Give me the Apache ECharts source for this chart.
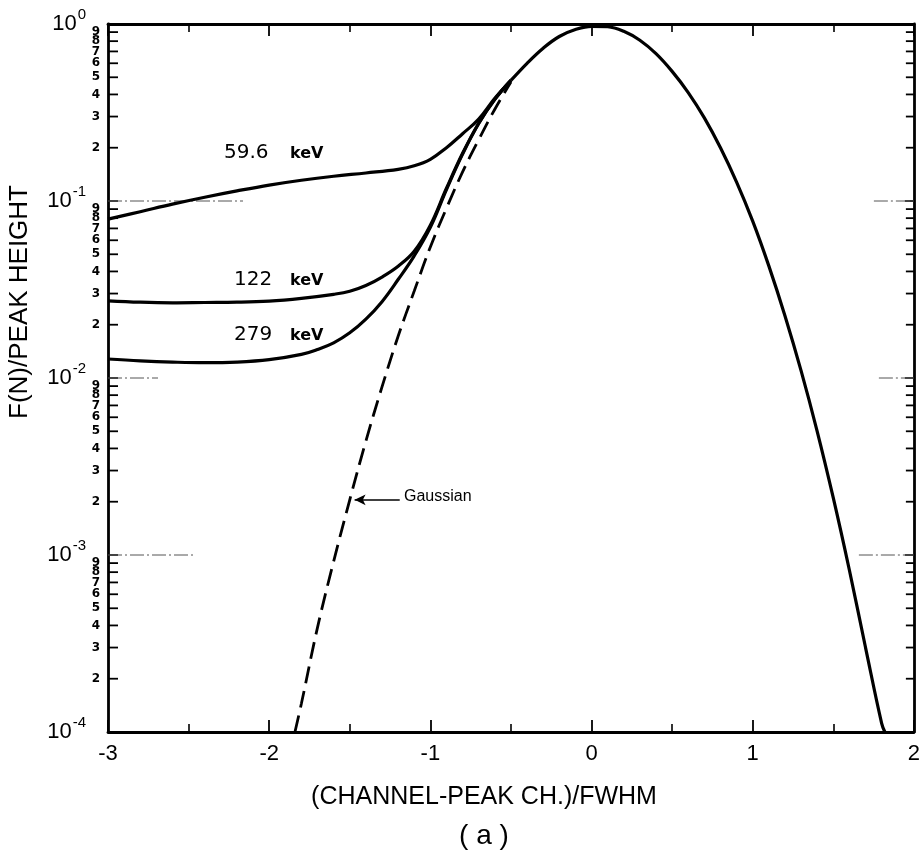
<!DOCTYPE html>
<html>
<head>
<meta charset="utf-8">
<script src="https://cdn.jsdelivr.net/npm/echarts@6/dist/echarts.min.js"></script>
<style>
  html, body { margin: 0; padding: 0; background: #ffffff; }
  #chart { width: 923px; height: 852px; }
</style>
</head>
<body>
<div id="chart"></div>
<script>
// Axis ranges and tick labels
const xMin = -3, xMax = 2;
const xTickLabels = ['-3', '-2', '-1', '0', '1', '2'];
const yMin = 1e-4, yMax = 1;
const decadeExponents = [0, -1, -2, -3, -4];
const minorDigits = [2, 3, 4, 5, 6, 7, 8, 9];
const minorDecades = [-1, -2, -3, -4];
const guideDecades = [-1, -2, -3];

// Common peak (solid) from the merge point down the high-energy side
const peakX = [-0.5, -0.4, -0.3, -0.2, -0.1, 0, 0.1, 0.2, 0.3, 0.4, 0.5, 0.6, 0.7, 0.8, 0.9, 1.0, 1.1, 1.2, 1.3, 1.4, 1.5, 1.6, 1.7, 1.8, 1.82];
const peakY = [0.48, 0.60, 0.73, 0.85, 0.93, 0.97, 0.965, 0.91, 0.81, 0.68, 0.54, 0.41, 0.295, 0.20, 0.128, 0.077, 0.043, 0.0225, 0.0110, 0.0050, 0.00210, 0.00082, 0.00030, 0.000112, 0.0001];

// Pure Gaussian (dashed) low-energy side
const gaussX = [-1.84, -1.8, -1.7, -1.6, -1.5, -1.4, -1.3, -1.2, -1.1, -1.0, -0.9, -0.8, -0.7, -0.6, -0.5];
const gaussY = [0.0001, 0.000145, 0.00039, 0.00092, 0.00205, 0.0044, 0.0089, 0.0172, 0.031, 0.055, 0.091, 0.146, 0.222, 0.33, 0.47];

// Low-energy tails for each photon energy
const x596 = [-3, -2.8, -2.6, -2.4, -2.2, -2.0, -1.8, -1.6, -1.4, -1.2, -1.1, -1.0, -0.9, -0.8, -0.7, -0.6, -0.5];
const y596 = [0.079, 0.087, 0.096, 0.105, 0.114, 0.123, 0.131, 0.138, 0.144, 0.151, 0.158, 0.172, 0.20, 0.24, 0.29, 0.38, 0.48];

const x122 = [-3, -2.8, -2.6, -2.4, -2.2, -2.0, -1.8, -1.6, -1.5, -1.4, -1.3, -1.2, -1.1, -1.0, -0.9, -0.8, -0.7, -0.6, -0.5];
const y122 = [0.0273, 0.0268, 0.0266, 0.0267, 0.0268, 0.0272, 0.0282, 0.0297, 0.0309, 0.0333, 0.0372, 0.0428, 0.052, 0.073, 0.118, 0.186, 0.275, 0.375, 0.48];

const x279 = [-3, -2.8, -2.6, -2.4, -2.2, -2.0, -1.8, -1.7, -1.6, -1.5, -1.4, -1.3, -1.2, -1.1, -1.0, -0.9, -0.8, -0.7, -0.6, -0.5];
const y279 = [0.0128, 0.0125, 0.0123, 0.0122, 0.0123, 0.0127, 0.0136, 0.0145, 0.0158, 0.0180, 0.0215, 0.027, 0.036, 0.049, 0.071, 0.116, 0.184, 0.274, 0.375, 0.48];

const curveLabels = ['59.6', '122', '279'];
const unitLabel = 'keV';

const zip = (xs, ys) => xs.map((x, i) => [x, ys[i]]);

const chart = echarts.init(document.getElementById('chart'), null, { renderer: 'canvas' });

const labelFont = "'Liberation Sans', Arial, sans-serif";
const ink = '#000000';

// Minor log ticks (2..9 in each decade) with their digits
const minorTickData = [];
minorDecades.forEach(e => {
  minorDigits.forEach(d => {
    minorTickData.push([xMin, d * Math.pow(10, e), d]);
  });
});
// Faint partial guide lines at some decades
const guideData = guideDecades.map(e => [xMin, Math.pow(10, e)]);
const guideLenLeft = { '-1': 135, '-2': 50, '-3': 85 };
const guideLenRight = { '-1': 40, '-2': 35, '-3': 55 };

const solidStyle = { color: ink, width: 3.2 };

const option = {
  backgroundColor: '#ffffff',
  animation: false,
  grid: { left: 108, right: 5, top: 24, bottom: 120, containLabel: false },
  xAxis: [
    {
      type: 'value', min: xMin, max: xMax, interval: 1, position: 'bottom',
      axisLine: { show: true, onZero: false, lineStyle: { color: ink, width: 2.8 } },
      axisTick: { show: true, inside: true, length: 12, lineStyle: { color: ink, width: 1.8 } },
      minorTick: { show: true, splitNumber: 2, length: 8, lineStyle: { color: ink, width: 1.6 } },
      splitLine: { show: false },
      axisLabel: {
        margin: 11, color: ink, fontFamily: labelFont, fontSize: 22,
        formatter: v => xTickLabels[Math.round(v - xMin)]
      }
    },
    {
      type: 'value', min: xMin, max: xMax, interval: 1, position: 'top',
      axisLine: { show: true, onZero: false, lineStyle: { color: ink, width: 2.8 } },
      axisTick: { show: true, inside: true, length: 12, lineStyle: { color: ink, width: 1.8 } },
      minorTick: { show: true, splitNumber: 2, length: 8, lineStyle: { color: ink, width: 1.6 } },
      splitLine: { show: false },
      axisLabel: { show: false }
    }
  ],
  yAxis: [
    {
      type: 'log', logBase: 10, min: yMin, max: yMax, position: 'left',
      axisLine: { show: true, onZero: false, lineStyle: { color: ink, width: 2.8 } },
      axisTick: { show: true, inside: true, length: 10, lineStyle: { color: ink, width: 1.6 } },
      splitLine: { show: false },
      axisLabel: {
        margin: 22, color: ink,
        formatter: v => {
          const e = Math.round(Math.log10(v));
          return '{b|10}{s|' + (e === 0 ? '0' : '-' + Math.abs(e)) + '}';
        },
        rich: {
          b: { fontFamily: labelFont, fontSize: 22, color: ink },
          s: { fontFamily: labelFont, fontSize: 15, color: ink, padding: [0, 0, 18, 1] }
        }
      }
    },
    {
      type: 'log', logBase: 10, min: yMin, max: yMax, position: 'right',
      axisLine: { show: true, onZero: false, lineStyle: { color: ink, width: 2.8 } },
      axisTick: { show: true, inside: true, length: 9, lineStyle: { color: ink, width: 1.6 } },
      splitLine: { show: false },
      axisLabel: { show: false }
    }
  ],
  series: [
    {
      name: 'minor ticks', type: 'custom', coordinateSystem: 'cartesian2d',
      xAxisIndex: 0, yAxisIndex: 0, clip: false, silent: true,
      encode: { x: 0, y: 1 },
      data: minorTickData,
      renderItem: (params, api) => {
        const v = api.value(1);
        const pL = api.coord([xMin, v]);
        const pR = api.coord([xMax, v]);
        return {
          type: 'group',
          children: [
            { type: 'line', shape: { x1: pL[0], y1: pL[1], x2: pL[0] + 10, y2: pL[1] }, style: { stroke: ink, lineWidth: 1.8 } },
            { type: 'line', shape: { x1: pR[0] - 8, y1: pR[1], x2: pR[0], y2: pR[1] }, style: { stroke: ink, lineWidth: 1.8 } },
            {
              type: 'text',
              style: {
                text: String(api.value(2)), x: pL[0] - 8, y: pL[1],
                align: 'right', verticalAlign: 'middle',
                font: "bold 12px 'DejaVu Sans', sans-serif", fill: ink
              }
            }
          ]
        };
      }
    },
    {
      name: 'decade guides', type: 'custom', coordinateSystem: 'cartesian2d',
      xAxisIndex: 0, yAxisIndex: 0, clip: false, silent: true,
      encode: { x: 0, y: 1 },
      data: guideData,
      renderItem: (params, api) => {
        const v = api.value(1);
        const key = String(Math.round(Math.log10(v)));
        const pL = api.coord([xMin, v]);
        const pR = api.coord([xMax, v]);
        return {
          type: 'group',
          children: [
            { type: 'line', shape: { x1: pL[0], y1: pL[1], x2: pL[0] + guideLenLeft[key], y2: pL[1] }, style: { stroke: '#555555', lineWidth: 1, lineDash: [14, 3, 2, 3] } },
            { type: 'line', shape: { x1: pR[0] - guideLenRight[key], y1: pR[1], x2: pR[0], y2: pR[1] }, style: { stroke: '#555555', lineWidth: 1, lineDash: [14, 3, 2, 3] } }
          ]
        };
      }
    },
    {
      name: 'Gaussian', type: 'line', data: zip(gaussX, gaussY), smooth: 0.4,
      showSymbol: false, clip: true,
      lineStyle: { color: ink, width: 2.8, type: [17, 8] },
      markLine: {
        silent: true, symbol: ['none', 'arrow'], symbolSize: [8, 11],
        lineStyle: { color: ink, width: 1.5, type: 'solid' },
        label: { show: false },
        data: [[{ coord: [-1.19, 0.00205] }, { coord: [-1.47, 0.00205] }]]
      }
    },
    { name: '59.6 keV', type: 'line', data: zip(x596, y596), smooth: 0.4, showSymbol: false, lineStyle: solidStyle },
    { name: '122 keV', type: 'line', data: zip(x122, y122), smooth: 0.4, showSymbol: false, lineStyle: solidStyle },
    { name: '279 keV', type: 'line', data: zip(x279, y279), smooth: 0.4, showSymbol: false, lineStyle: solidStyle },
    { name: 'peak', type: 'line', data: zip(peakX, peakY), smooth: 0.4, showSymbol: false, lineStyle: solidStyle }
  ],
  graphic: [
    // curve labels
    { type: 'text', x: 224, y: 153, style: { text: curveLabels[0], font: "20px 'DejaVu Sans', sans-serif", fill: ink, verticalAlign: 'middle' } },
    { type: 'text', x: 290, y: 154, style: { text: unitLabel, font: "bold 16px 'DejaVu Sans', sans-serif", fill: ink, verticalAlign: 'middle' } },
    { type: 'text', x: 234, y: 280, style: { text: curveLabels[1], font: "20px 'DejaVu Sans', sans-serif", fill: ink, verticalAlign: 'middle' } },
    { type: 'text', x: 290, y: 281, style: { text: unitLabel, font: "bold 16px 'DejaVu Sans', sans-serif", fill: ink, verticalAlign: 'middle' } },
    { type: 'text', x: 234, y: 335, style: { text: curveLabels[2], font: "20px 'DejaVu Sans', sans-serif", fill: ink, verticalAlign: 'middle' } },
    { type: 'text', x: 290, y: 336, style: { text: unitLabel, font: "bold 16px 'DejaVu Sans', sans-serif", fill: ink, verticalAlign: 'middle' } },
    { type: 'text', x: 404, y: 497, style: { text: 'Gaussian', font: "16px " + labelFont, fill: ink, verticalAlign: 'middle' } },
    // axis titles and panel tag
    { type: 'text', x: 484, y: 797, style: { text: '(CHANNEL-PEAK CH.)/FWHM', font: "25px " + labelFont, fill: ink, align: 'center', verticalAlign: 'middle' } },
    { type: 'text', x: 484, y: 836, style: { text: '( a )', font: "28px " + labelFont, fill: ink, align: 'center', verticalAlign: 'middle' } },
    { type: 'text', x: 20, y: 302, rotation: Math.PI / 2, style: { text: 'F(N)/PEAK HEIGHT', font: "26px " + labelFont, fill: ink, align: 'center', verticalAlign: 'middle' } }
  ]
};

chart.setOption(option);
</script>
</body>
</html>
